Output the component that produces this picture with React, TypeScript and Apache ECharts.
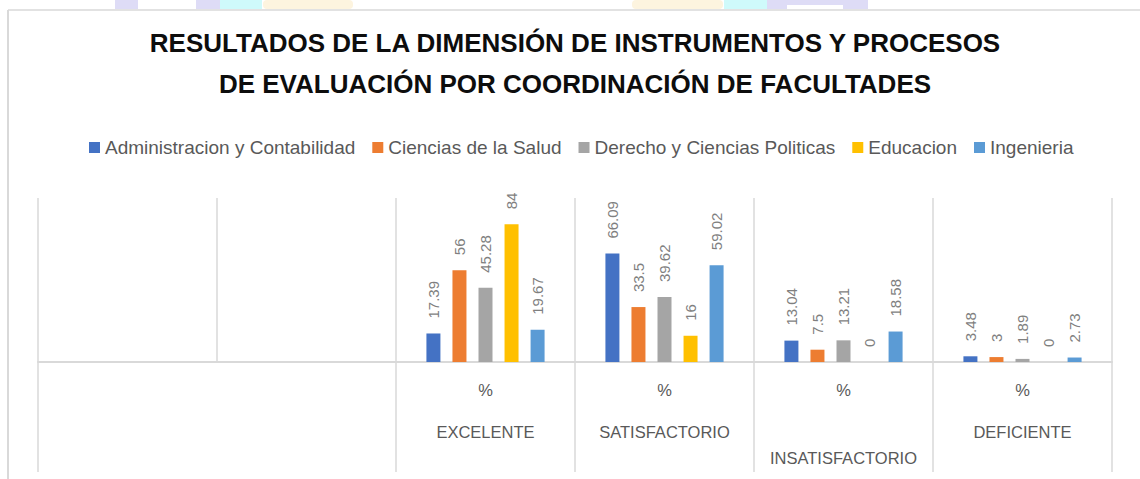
import React, { useEffect, useRef } from "react";
import * as echarts from "echarts";

const titleLines = [
  "RESULTADOS DE LA DIMENSIÓN DE INSTRUMENTOS Y PROCESOS",
  "DE EVALUACIÓN POR COORDINACIÓN DE FACULTADES",
];
const categories = ["", "", "EXCELENTE", "SATISFACTORIO", "INSATISFACTORIO", "DEFICIENTE"];
const unitLabel = "%";
const seriesNames = [
  "Administracion y Contabilidad",
  "Ciencias de la Salud",
  "Derecho y Ciencias Politicas",
  "Educacion",
  "Ingenieria",
];
const adminValues = ["-", "-", 17.39, 66.09, 13.04, 3.48];
const saludValues = ["-", "-", 56, 33.5, 7.5, 3];
const derechoValues = ["-", "-", 45.28, 39.62, 13.21, 1.89];
const educacionValues = ["-", "-", 84, 16, 0, 0];
const ingenieriaValues = ["-", "-", 19.67, 59.02, 18.58, 2.73];
const seriesColors = ["#4472C4", "#ED7D31", "#A5A5A5", "#FFC000", "#5B9BD5"];

const FONT = "'Liberation Sans', Arial, sans-serif";

export default function App() {
  const ref = useRef<HTMLDivElement>(null);
  useEffect(() => {
    if (!ref.current) return;
    const chart = echarts.init(ref.current, null, { renderer: "svg" });
    const allValues = [adminValues, saludValues, derechoValues, educacionValues, ingenieriaValues];
    const gridColor = "#d9d9d9";
    chart.setOption({
      animation: false,
      backgroundColor: "#ffffff",
      textStyle: { fontFamily: FONT },
      title: {
        text: titleLines.join("\n"),
        left: 575,
        top: 23,
        padding: 0,
        textAlign: "center",
        textStyle: {
          fontFamily: FONT,
          fontSize: 26,
          fontWeight: "bold",
          color: "#0d0d0d",
          lineHeight: 40.5,
        },
      },
      legend: {
        left: 84,
        top: 133,
        icon: "rect",
        itemWidth: 11,
        itemHeight: 11,
        itemGap: 17,
        textStyle: { fontFamily: FONT, fontSize: 19, color: "#595959" },
        data: seriesNames,
      },
      graphic: [
        { type: "rect", shape: { x: 115, y: 0, width: 23, height: 9 }, style: { fill: "#dedcf6" }, silent: true },
        { type: "rect", shape: { x: 196, y: 0, width: 24, height: 9 }, style: { fill: "#dedcf6" }, silent: true },
        { type: "rect", shape: { x: 220, y: 0, width: 42, height: 9 }, style: { fill: "#cffafb" }, silent: true },
        { type: "rect", shape: { x: 263, y: 0, width: 90, height: 9, r: 4 }, style: { fill: "#fdf4df" }, silent: true },
        { type: "rect", shape: { x: 632, y: 0, width: 91, height: 9, r: 4 }, style: { fill: "#fdf4df" }, silent: true },
        { type: "rect", shape: { x: 724, y: 0, width: 43, height: 9 }, style: { fill: "#cffafb" }, silent: true },
        { type: "rect", shape: { x: 767, y: 0, width: 101, height: 9 }, style: { fill: "#dedcf6" }, silent: true },
        { type: "rect", shape: { x: 787, y: 5, width: 56, height: 4 }, style: { fill: "#ffffff" }, silent: true },
        { type: "line", shape: { x1: 8, y1: 10, x2: 1140, y2: 10 }, style: { stroke: gridColor, lineWidth: 1.5 }, silent: true },
        { type: "line", shape: { x1: 8, y1: 10, x2: 8, y2: 479 }, style: { stroke: gridColor, lineWidth: 2 }, silent: true },
      ],
      grid: { left: 38, right: 28, top: 198, bottom: 117, containLabel: false },
      xAxis: {
        type: "category",
        data: categories,
        boundaryGap: true,
        axisLine: { show: true, lineStyle: { color: gridColor, width: 2 } },
        axisTick: {
          show: true,
          length: 110,
          interval: (index: number) => index !== 1,
          lineStyle: { color: gridColor, width: 1.5 },
        },
        splitLine: { show: true, interval: 0, lineStyle: { color: gridColor, width: 1.5 } },
        axisLabel: {
          interval: 0,
          margin: 14,
          color: "#595959",
          fontFamily: FONT,
          fontSize: 16.5,
          formatter: (v: string) =>
            v ? `{p|${unitLabel}}\n{${v === "INSATISFACTORIO" ? "d" : "c"}|${v}}` : "",
          rich: {
            p: { lineHeight: 28, fontSize: 16.5, color: "#595959", fontFamily: FONT },
            c: { lineHeight: 56, fontSize: 16.5, color: "#595959", fontFamily: FONT },
            d: { lineHeight: 108, fontSize: 16.5, color: "#595959", fontFamily: FONT },
          },
        },
      },
      yAxis: {
        type: "value",
        min: 0,
        max: 100,
        show: false,
        splitLine: { show: false },
      },
      series: seriesNames.map((name, i) => ({
        name,
        type: "bar",
        data: allValues[i],
        barWidth: 14,
        barGap: "86%",
        itemStyle: { color: seriesColors[i] },
        label: {
          show: true,
          position: "top",
          rotate: 90,
          align: "left",
          verticalAlign: "middle",
          distance: 15,
          color: "#7f7f7f",
          fontFamily: FONT,
          fontSize: 15,
        },
      })),
    });
    return () => chart.dispose();
  }, []);
  return (
    <div
      ref={ref}
      style={{ position: "fixed", left: 0, top: 0, width: 1140, height: 479 }}
    />
  );
}
